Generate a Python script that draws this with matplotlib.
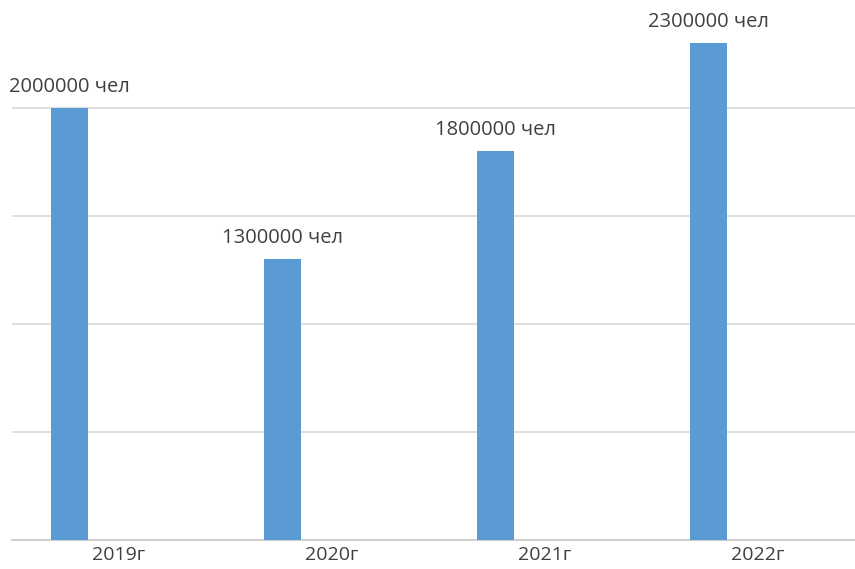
import matplotlib.pyplot as plt
import numpy as np

years = ["2019г", "2020г", "2021г", "2022г"]
people = [2000000, 1300000, 1800000, 2300000]
bar_labels = ["2000000 чел", "1300000 чел", "1800000 чел", "2300000 чел"]

W, H = 855, 569
fig = plt.figure(figsize=(W / 100, H / 100), dpi=100)
ax = fig.add_axes([12 / W, 29 / H, 852 / W, 540 / H])

x = np.arange(len(years))
bar_off = -0.23
bars = ax.bar(x + bar_off, people, width=0.17, color="#5b9bd5", zorder=3)

for rect, txt in zip(bars, bar_labels):
    ax.annotate(txt, (rect.get_x() + rect.get_width() / 2, rect.get_height()),
                xytext=(0, 8), textcoords="offset points", ha="center", va="bottom",
                fontsize=14.5, color="#404040", family=["Open Sans", "DejaVu Sans"])

ax.set_xlim(-0.5, len(years) - 0.5)
ax.set_ylim(0, 2500000)
ax.set_yticks([500000, 1000000, 1500000, 2000000])
ax.yaxis.grid(True, color="#d9d9d9", linewidth=1.2, zorder=0)
ax.tick_params(axis="y", length=0, labelleft=False)
ax.set_xticks(x)
ax.set_xticklabels(years, fontsize=14, color="#404040", family=["Open Sans", "DejaVu Sans"])
ax.tick_params(axis="x", length=0, pad=4)

for side in ("top", "right", "left"):
    ax.spines[side].set_visible(False)
ax.spines["bottom"].set_color("#d0d0d0")
ax.spines["bottom"].set_linewidth(1.5)

fig.savefig("out.png", dpi=100)
